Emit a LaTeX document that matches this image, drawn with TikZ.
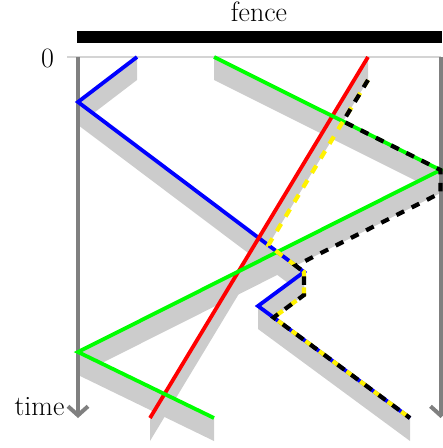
\documentclass[tikz,border=0pt]{standalone}
\usetikzlibrary{arrows.meta}
\begin{document}
\begin{tikzpicture}[x=1bp,y=-1bp,
  lbl/.style={font=\fontsize{28bp}{34bp}\selectfont, inner sep=0pt},
  shadowfill/.style={fill=black!20},
  axisline/.style={draw=black!50, line width=4bp, -{Straight Barb[length=9bp,width=20bp]}},
  worldline/.style={line width=3.8bp},
  dashline/.style={line width=4.2bp, dash pattern=on 8.5bp off 8.5bp},
]
\useasboundingbox (0,0) rectangle (443,448);

% labels
\node[lbl, anchor=base] (fencelbl) at (259,22) {fence};
\node[lbl, anchor=base] (zerolbl) at (47.5,68) {0};
\node[lbl, anchor=base] (timelbl) at (39.5,415) {time};

% fence bar and zero line
\coordinate (fa) at (77,37.5);
\coordinate (fb) at (441.7,37.5);
\draw[line width=12bp] (fa) -- (fb);
\coordinate (za) at (67,57);
\coordinate (zb) at (441,57);
\draw[black!17, line width=1.6bp] (za) -- (zb);

% vertices
\coordinate (b0) at (137,57);
\coordinate (b1) at (78,102);
\coordinate (b2) at (304,272);
\coordinate (b3) at (258,306);
\coordinate (b4) at (410,418);
\coordinate (g0) at (214,57);
\coordinate (g1) at (440.5,170);
\coordinate (g2) at (78,352);
\coordinate (g3) at (214,418);
\coordinate (r0) at (368,57);
\coordinate (r1) at (150,418);

\foreach \p in {b0,b1,b2,b3,b4,g0,g1,g2,g3,r0,r1}
  \coordinate (\p s) at ([yshift=-23bp]\p);

% shadows
\foreach \a/\b in {b0/b1,b1/b2,b2/b3,b3/b4,g0/g1,g1/g2,g2/g3,r0/r1}
  \fill[shadowfill] (\a) -- (\b) -- (\b s) -- (\a s) -- cycle;

% axes
\coordinate (la) at (78,57);
\coordinate (lb) at (78,418);
\coordinate (ra) at (440.5,57);
\coordinate (rb) at (440.5,418);
\draw[axisline] (la) -- (lb);
\draw[axisline] (ra) -- (rb);

% world lines
\draw[worldline, blue] (b0) -- (b1) -- (b2) -- (b3) -- (b4);
\draw[worldline, red] (r0) -- (r1);
\draw[worldline, green] (g0) -- (g1) -- (g2) -- (g3);

% intersections for the dashed paths
\coordinate (x1) at (intersection of r0s--r1s and g0--g1);
\coordinate (x2) at (intersection of g1s--g2s and b1--b2);
\coordinate (x3) at (intersection of b2s--b3s and b3--b4);
\coordinate (x4) at (intersection of r0s--r1s and b1--b2);

\draw[dashline, yellow, dash phase=2bp] (r0s) -- (x4) -- (b2) -- (b2s) -- (x3) -- (b4);
\draw[dashline, black] (r0s) -- (x1) -- (g1) -- (g1s) -- (x2) -- (b2) -- (b2s) -- (x3) -- (b4);
\end{tikzpicture}
\end{document}
